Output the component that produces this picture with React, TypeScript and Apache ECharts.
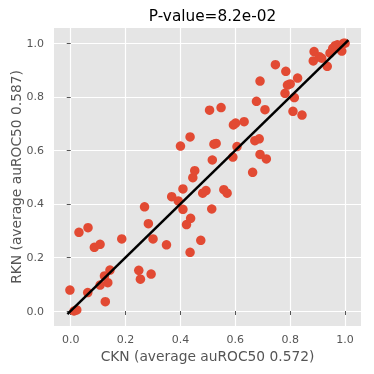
import React, { useEffect, useRef } from "react";
import * as echarts from "echarts";

const TITLE = "P-value=8.2e-02";
const X_NAME = "CKN (average auROC50 0.572)";
const Y_NAME = "RKN (average auROC50 0.587)";
const TICKS = [0, 0.2, 0.4, 0.6, 0.8, 1.0];

const ckn = [
  -0.003, 0.012, 0.022, 0.030, 0.063, 0.062, 0.086, 0.107, 0.107, 0.123,
  0.135, 0.143, 0.126, 0.186, 0.248, 0.254, 0.269, 0.283, 0.293, 0.300,
  0.349, 0.368, 0.392, 0.400, 0.409, 0.409, 0.422, 0.435, 0.435, 0.437,
  0.445, 0.452, 0.474, 0.481, 0.493, 0.506, 0.514, 0.516, 0.522, 0.530,
  0.548, 0.558, 0.570, 0.591, 0.593, 0.601, 0.606, 0.632, 0.663, 0.671,
  0.677, 0.687, 0.690, 0.690, 0.708, 0.713, 0.746, 0.781, 0.784, 0.790,
  0.800, 0.810, 0.815, 0.827, 0.843, 0.884, 0.887, 0.906, 0.915, 0.935,
  0.945, 0.955, 0.964, 0.972, 0.988, 0.994, 1.0,
];
const rkn = [
  0.078, 0.0, 0.004, 0.294, 0.311, 0.069, 0.238, 0.249, 0.097, 0.131,
  0.106, 0.153, 0.035, 0.269, 0.152, 0.119, 0.389, 0.326, 0.138, 0.269,
  0.247, 0.427, 0.411, 0.616, 0.456, 0.380, 0.323, 0.650, 0.219, 0.346,
  0.498, 0.524, 0.264, 0.440, 0.450, 0.750, 0.381, 0.564, 0.623, 0.626,
  0.760, 0.453, 0.440, 0.575, 0.695, 0.702, 0.614, 0.707, 0.518, 0.636,
  0.783, 0.643, 0.859, 0.585, 0.752, 0.568, 0.920, 0.813, 0.895, 0.844,
  0.848, 0.746, 0.797, 0.870, 0.732, 0.934, 0.969, 0.950, 0.944, 0.914,
  0.963, 0.981, 0.991, 0.994, 0.971, 1.0, 1.0,
];
const diagonal = [-0.012, 1.012];

const FONT = "DejaVu Sans";
const GRAY = "#555555";

export default function App() {
  const ref = useRef<HTMLDivElement>(null);
  useEffect(() => {
    if (!ref.current) return;
    const chart = echarts.init(ref.current, null, { renderer: "svg" });
    const points = ckn.map((x, i) => [x, rkn[i]]);
    const axisCommon = (name: string, isX: boolean, min: number, max: number) => ({
      type: "value",
      min,
      max,
      name,
      nameLocation: "middle",
      nameGap: isX ? 23 : 31,
      nameMoveOverlap: false,
      nameTextStyle: { color: GRAY, fontFamily: FONT, fontSize: 13.8 },
      axisLine: { show: false },
      axisTick: {
        show: true,
        length: 4,
        lineStyle: { color: GRAY, width: 1 },
        customValues: TICKS,
      },
      axisLabel: {
        color: GRAY,
        fontFamily: FONT,
        fontSize: 11,
        margin: isX ? 8 : 10,
        customValues: TICKS,
        formatter: (v: number) => v.toFixed(1),
      },
      splitLine: { show: true, lineStyle: { color: "#ffffff", width: 1.2 } },
    });
    chart.setOption({
      animation: false,
      title: {
        text: TITLE,
        left: 207.5,
        textAlign: "center",
        top: 3,
        textStyle: { color: "#000000", fontFamily: FONT, fontSize: 15.3, fontWeight: "normal" },
      },
      grid: {
        left: 54,
        right: 13,
        top: 28,
        bottom: 48,
        show: true,
        backgroundColor: "#E5E5E5",
        borderWidth: 0,
        containLabel: false,
        outerBoundsMode: "none",
      },
      xAxis: axisCommon(X_NAME, true, -0.061, 1.058),
      yAxis: axisCommon(Y_NAME, false, -0.056, 1.057),
      series: [
        {
          type: "scatter",
          data: points,
          symbolSize: 9.5,
          itemStyle: { color: "#E24A33", opacity: 1 },
          z: 2,
        },
        {
          type: "line",
          data: diagonal.map((v) => [v, v]),
          showSymbol: false,
          lineStyle: { color: "#000000", width: 2.5 },
          z: 3,
        },
      ],
    });
    return () => chart.dispose();
  }, []);
  return (
    <div
      ref={ref}
      style={{ position: "fixed", left: 0, top: 0, width: 374, height: 374 }}
    />
  );
}
